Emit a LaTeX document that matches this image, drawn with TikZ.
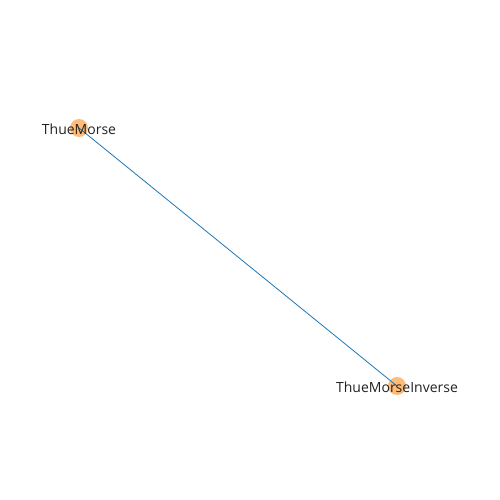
\documentclass[tikz,border=0pt]{standalone}
\usepackage{fontspec}
\setmainfont{Open Sans}
\definecolor{nodeorange}{HTML}{FFBB78}
\definecolor{edgeblue}{HTML}{1F77B4}
\definecolor{labelgray}{HTML}{222222}
\tikzset{
  vertex/.style={circle,fill=nodeorange,minimum size=18pt,inner sep=0pt},
  vlabel/.style={text=labelgray,font=\fontsize{14pt}{16pt}\selectfont,inner sep=0pt},
  edge/.style={draw=edgeblue,line width=0.8pt}
}
\begin{document}
\begin{tikzpicture}[x=1pt,y=-1pt]
\useasboundingbox (0,0) rectangle (500,500);
\node[vertex] (a) at (79,128) {};
\node[vertex] (b) at (397,386) {};
\draw[edge] (a.center) -- (b.center);
\node[vlabel] (la) at (79,129) {ThueMorse};
\node[vlabel] (lb) at (397,387) {ThueMorseInverse};
\end{tikzpicture}
\end{document}
